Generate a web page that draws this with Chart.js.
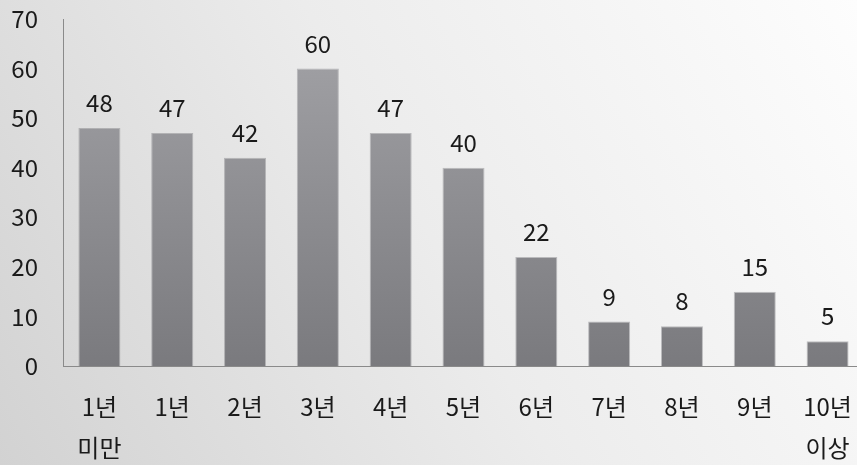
<!DOCTYPE html>
<html>
<head>
<meta charset="utf-8">
<script src="https://cdn.jsdelivr.net/npm/chart.js@4/dist/chart.umd.min.js"></script>
<style>
  html, body { margin: 0; padding: 0; background: #fff; width: 857px; height: 465px; overflow: hidden; }
  /* the plot runs a few pixels past the right edge of the page */
  #wrap { width: 864px; height: 465px; position: relative; }
</style>
</head>
<body>
<div id="wrap"><canvas id="chart"></canvas></div>
<script>
const categories = [['1년', '미만'], '1년', '2년', '3년', '4년', '5년', '6년', '7년', '8년', '9년', ['10년', '이상']];
const counts = [48, 47, 42, 60, 47, 40, 22, 9, 8, 15, 5];
const yTicks = [0, 10, 20, 30, 40, 50, 60, 70];

const FONT = "'Noto Sans CJK KR', 'Open Sans', sans-serif";

// soft grey backdrop, lighter toward the top right
const backdrop = {
  id: 'backdrop',
  beforeDraw(chart) {
    const { ctx, width, height } = chart;
    const g = ctx.createLinearGradient(857, 0, 0, height);
    g.addColorStop(0, '#fdfdfd');
    g.addColorStop(0.5, '#ececec');
    g.addColorStop(1, '#d2d2d2');
    ctx.save();
    ctx.fillStyle = g;
    ctx.fillRect(0, 0, width, height);
    ctx.restore();
  }
};

// value printed above each bar
const valueLabels = {
  id: 'valueLabels',
  afterDatasetsDraw(chart) {
    const { ctx } = chart;
    const meta = chart.getDatasetMeta(0);
    ctx.save();
    ctx.font = '24px ' + FONT;
    ctx.fillStyle = '#1a1a1a';
    ctx.textAlign = 'center';
    ctx.textBaseline = 'middle';
    meta.data.forEach((bar, i) => {
      ctx.fillText(String(counts[i]), bar.x, bar.y - 25);
    });
    ctx.restore();
  }
};

function barFill(c) {
  const area = c.chart.chartArea;
  if (!area) return '#8e8e92';
  const g = c.chart.ctx.createLinearGradient(0, area.top, 0, area.bottom);
  g.addColorStop(0, '#a4a4a8');
  g.addColorStop(1, '#7a7a7e');
  return g;
}

new Chart(document.getElementById('chart'), {
  type: 'bar',
  data: {
    labels: categories,
    datasets: [{
      data: counts,
      backgroundColor: barFill,
      borderColor: 'rgba(90,90,94,0.35)',
      borderWidth: 1,
      barPercentage: 0.577,
      categoryPercentage: 1
    }]
  },
  options: {
    responsive: true,
    maintainAspectRatio: false,
    animation: false,
    layout: { padding: { top: 19, right: 0, left: 0, bottom: 0 } },
    plugins: { legend: { display: false }, tooltip: { enabled: false } },
    scales: {
      x: {
        grid: { display: false, drawTicks: false },
        border: { display: true, color: '#8a8a8a', width: 1 },
        ticks: {
          color: '#1a1a1a',
          font: { family: FONT, size: 24, lineHeight: '41px' },
          padding: 20,
          maxRotation: 0,
          autoSkip: false
        },
        afterFit(scale) {
          scale.height = 99;
          scale.paddingLeft = 0;
          scale.paddingRight = 0;
        }
      },
      y: {
        min: 0,
        max: 70,
        afterBuildTicks(scale) { scale.ticks = yTicks.map(v => ({ value: v })); },
        grid: { display: false, drawTicks: false },
        border: { display: true, color: '#8a8a8a', width: 1 },
        ticks: {
          color: '#1a1a1a',
          font: { family: FONT, size: 24 },
          padding: 25
        },
        afterFit(scale) {
          scale.width = 63;
          scale.paddingTop = 0;
          scale.paddingBottom = 0;
        }
      }
    }
  },
  plugins: [backdrop, valueLabels]
});
</script>
</body>
</html>
